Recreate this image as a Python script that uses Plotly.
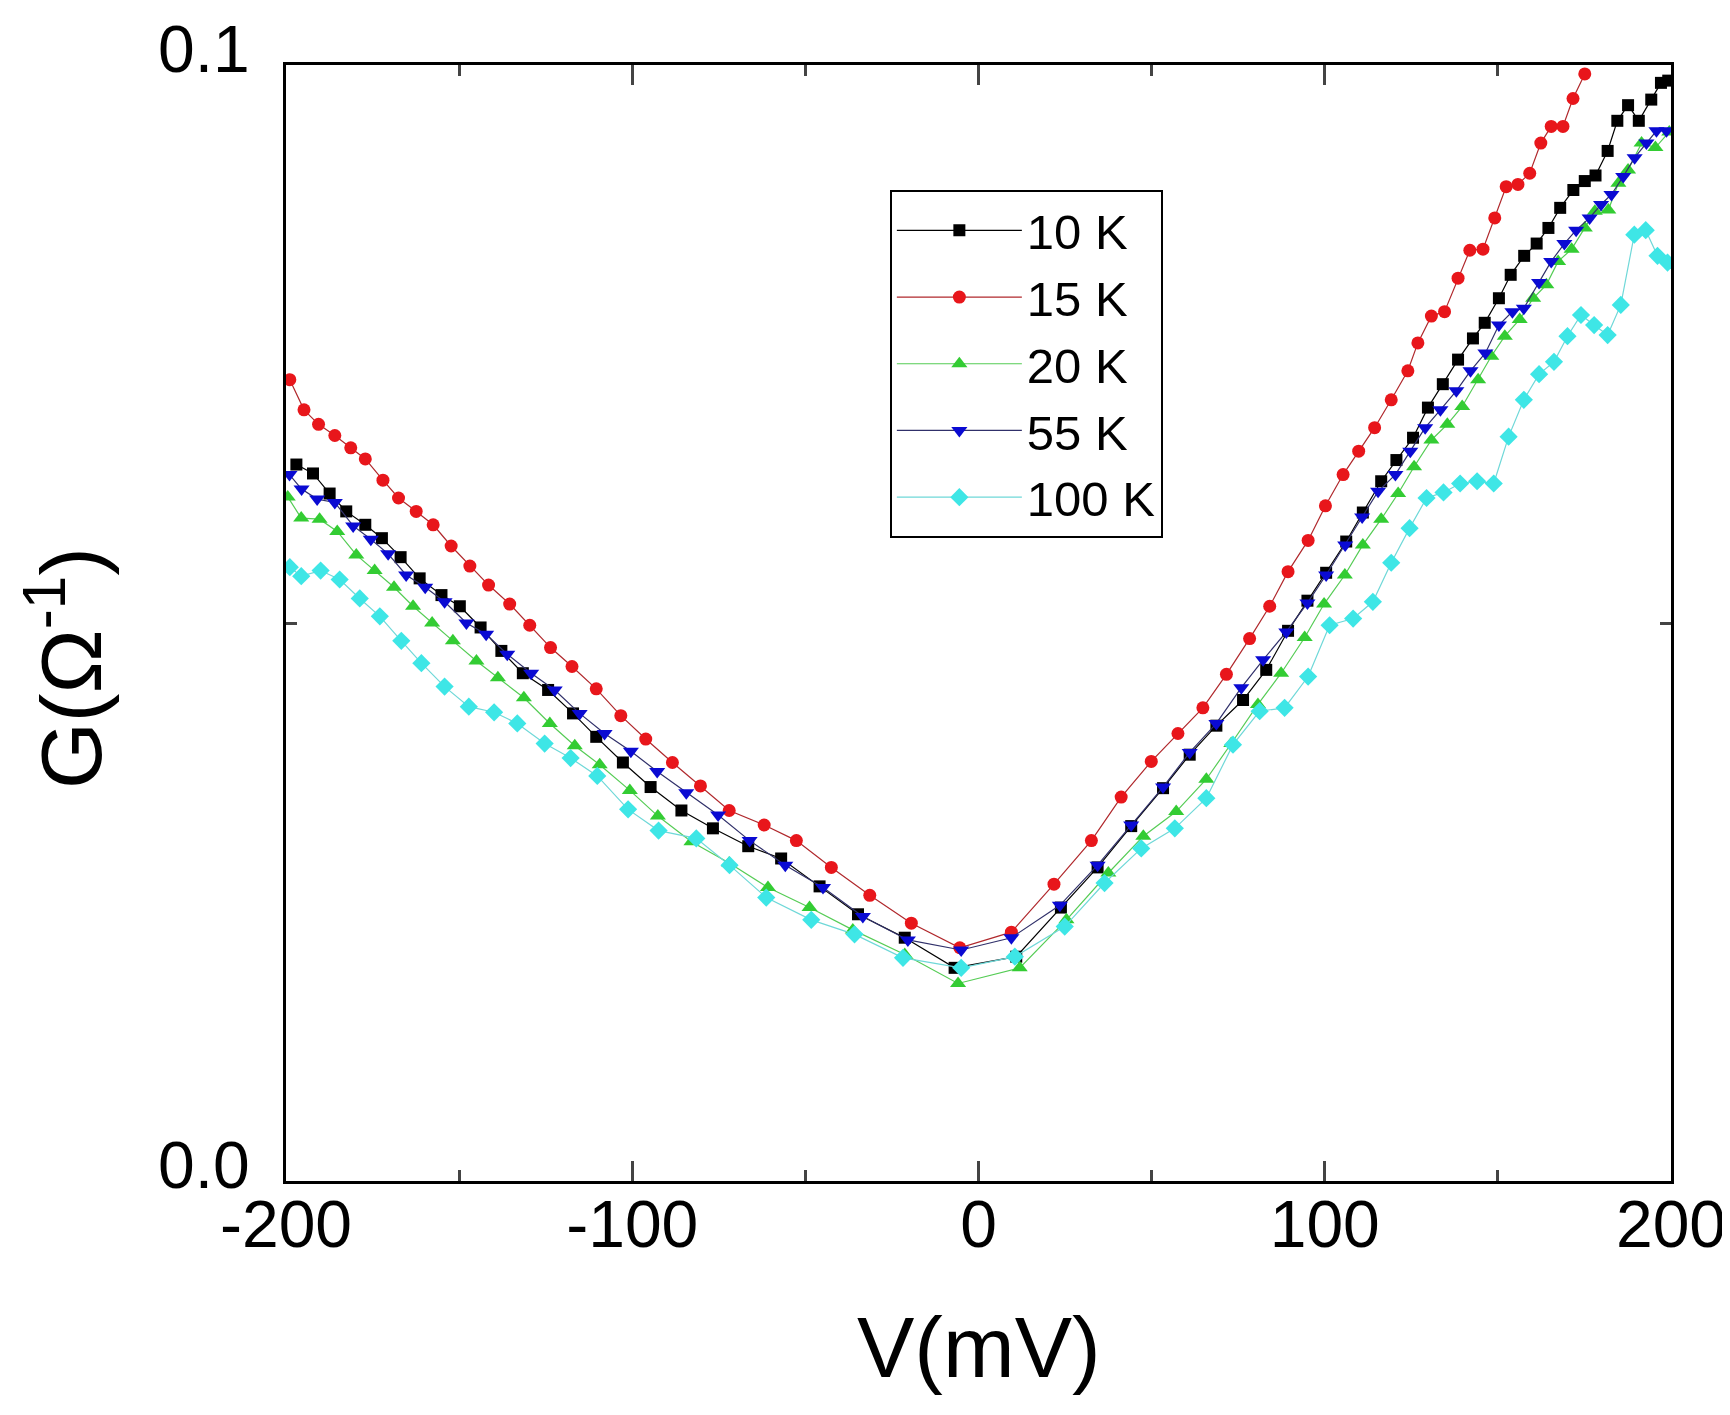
import plotly.graph_objects as go

# 10 K
v_10k = [-197.0, -192.2, -187.4, -182.6, -177.1, -172.3, -166.9, -161.4, -155.1, -149.8, -143.8, -137.8, -131.6, -124.3,
         -117.1, -110.4, -102.7, -94.7, -85.8, -76.7, -66.5, -57.0, -45.9, -34.8, -21.3, -6.9, 10.9, 23.8, 34.4, 44.1,
         53.3, 61.0, 68.7, 76.4, 83.1, 89.4, 95.0, 100.4, 106.2, 111.0, 116.3, 120.7, 125.5, 129.8, 134.1, 138.5, 142.8,
         146.2, 150.3, 153.7, 157.6, 161.2, 164.6, 168.0, 171.8, 175.1, 178.2, 181.7, 184.5, 187.6, 190.7, 194.3, 197.1,
         199.2]
g_10k = [0.0642, 0.0634, 0.0616, 0.0600, 0.0588, 0.0576, 0.0559, 0.0540, 0.0525, 0.0515, 0.0496, 0.0475, 0.0455, 0.0440,
         0.0419, 0.0398, 0.0375, 0.0353, 0.0332, 0.0316, 0.0300, 0.0289, 0.0264, 0.0239, 0.0218, 0.0191, 0.0201, 0.0245,
         0.0281, 0.0318, 0.0352, 0.0382, 0.0408, 0.0431, 0.0458, 0.0493, 0.0520, 0.0545, 0.0573, 0.0599, 0.0627, 0.0646,
         0.0666, 0.0693, 0.0714, 0.0736, 0.0755, 0.0769, 0.0791, 0.0812, 0.0829, 0.0840, 0.0854, 0.0872, 0.0888, 0.0896,
         0.0901, 0.0923, 0.0950, 0.0964, 0.0950, 0.0969, 0.0984, 0.0986]

# 15 K
v_15k = [-198.9, -194.8, -190.6, -185.9, -181.3, -177.1, -172.0, -167.5, -162.4, -157.5, -152.3, -146.9, -141.5, -135.4,
         -129.6, -123.6, -117.4, -110.4, -103.3, -96.1, -88.4, -80.3, -72.0, -61.9, -52.6, -42.5, -31.4, -19.4, -5.4,
         9.5, 21.8, 32.6, 41.2, 49.9, 57.6, 64.8, 71.6, 78.3, 84.1, 89.4, 95.2, 100.2, 105.3, 109.8, 114.4, 119.2, 124.0,
         126.9, 130.8, 134.6, 138.5, 141.9, 145.7, 149.1, 152.4, 155.8, 159.2, 162.4, 165.4, 168.8, 171.7, 175.1]
g_15k = [0.0718, 0.0691, 0.0678, 0.0668, 0.0657, 0.0647, 0.0628, 0.0612, 0.0600, 0.0588, 0.0569, 0.0551, 0.0534, 0.0517,
         0.0498, 0.0478, 0.0461, 0.0441, 0.0417, 0.0396, 0.0375, 0.0354, 0.0332, 0.0319, 0.0305, 0.0281, 0.0256, 0.0231,
         0.0209, 0.0223, 0.0266, 0.0305, 0.0344, 0.0376, 0.0401, 0.0424, 0.0454, 0.0486, 0.0515, 0.0546, 0.0574, 0.0605,
         0.0633, 0.0654, 0.0675, 0.0700, 0.0726, 0.0751, 0.0775, 0.0779, 0.0809, 0.0834, 0.0835, 0.0863, 0.0891, 0.0893,
         0.0903, 0.0930, 0.0945, 0.0945, 0.0970, 0.0992]

# 20 K
v_20k = [-199.5, -195.6, -190.3, -185.2, -179.7, -174.4, -168.8, -163.3, -157.8, -151.8, -145.0, -138.8, -131.3, -123.8,
         -116.6, -109.4, -100.7, -92.6, -82.9, -72.0, -60.8, -48.8, -36.3, -21.3, -5.9, 11.9, 25.4, 37.5, 47.6, 57.1,
         65.8, 73.0, 80.7, 87.4, 94.2, 99.8, 105.8, 111.0, 116.3, 121.2, 125.8, 130.8, 135.4, 139.7, 144.3, 148.1, 152.0,
         156.3, 160.2, 164.0, 167.4, 171.3, 175.1, 178.0, 181.9, 184.8, 187.6, 191.5, 195.5, 199.5]
g_20k = [0.0613, 0.0594, 0.0593, 0.0582, 0.0561, 0.0547, 0.0532, 0.0515, 0.0500, 0.0484, 0.0466, 0.0451, 0.0433, 0.0410,
         0.0390, 0.0373, 0.0350, 0.0327, 0.0304, 0.0285, 0.0263, 0.0245, 0.0225, 0.0203, 0.0177, 0.0191, 0.0234, 0.0276,
         0.0309, 0.0331, 0.0360, 0.0392, 0.0427, 0.0455, 0.0487, 0.0517, 0.0543, 0.0570, 0.0593, 0.0616, 0.0640, 0.0664,
         0.0678, 0.0694, 0.0718, 0.0739, 0.0757, 0.0772, 0.0791, 0.0803, 0.0824, 0.0835, 0.0854, 0.0869, 0.0870, 0.0894,
         0.0906, 0.0930, 0.0926, 0.0940]

# 55 K
v_55k = [-199.0, -195.5, -191.0, -185.9, -180.6, -175.5, -170.5, -165.3, -159.8, -154.2, -147.9, -142.2, -136.1, -129.2,
         -122.4, -115.2, -108.0, -100.4, -92.8, -84.4, -75.2, -66.1, -55.8, -44.9, -33.4, -20.4, -5.0, 9.5, 23.5, 34.4,
         44.1, 53.3, 61.0, 68.7, 75.9, 82.2, 88.9, 95.0, 100.4, 105.9, 110.8, 115.4, 120.4, 124.7, 129.0, 133.4, 138.0,
         142.1, 146.4, 150.3, 154.2, 157.5, 161.9, 165.4, 169.2, 172.6, 176.5, 179.8, 182.8, 186.2, 189.5, 192.9, 195.8,
         198.7]
g_55k = [0.0633, 0.0620, 0.0611, 0.0608, 0.0587, 0.0575, 0.0562, 0.0543, 0.0532, 0.0519, 0.0500, 0.0490, 0.0472, 0.0455,
         0.0440, 0.0419, 0.0401, 0.0385, 0.0367, 0.0348, 0.0328, 0.0305, 0.0283, 0.0263, 0.0237, 0.0216, 0.0207, 0.0218,
         0.0247, 0.0283, 0.0319, 0.0353, 0.0384, 0.0410, 0.0442, 0.0467, 0.0492, 0.0518, 0.0543, 0.0570, 0.0595, 0.0618,
         0.0633, 0.0654, 0.0675, 0.0691, 0.0708, 0.0726, 0.0742, 0.0767, 0.0779, 0.0782, 0.0805, 0.0824, 0.0840, 0.0852,
         0.0863, 0.0875, 0.0884, 0.0900, 0.0917, 0.0930, 0.0941, 0.0941]

# 100 K
v_100k = [-198.9, -195.6, -190.0, -184.5, -178.7, -172.9, -166.7, -160.9, -154.2, -147.2, -139.9, -133.2, -125.3, -117.8,
          -110.1, -101.2, -92.4, -81.5, -71.9, -61.3, -48.3, -35.8, -21.8, -5.0, 10.5, 24.9, 36.4, 47.0, 56.7, 65.8,
          73.5, 81.2, 88.4, 95.2, 101.4, 108.2, 113.9, 119.2, 124.5, 129.4, 134.3, 139.1, 144.0, 148.8, 153.1, 157.5,
          161.9, 166.2, 170.1, 174.0, 177.8, 181.7, 185.5, 189.4, 192.7, 196.1, 199.0]
g_100k = [0.0550, 0.0542, 0.0547, 0.0539, 0.0522, 0.0506, 0.0484, 0.0464, 0.0443, 0.0425, 0.0420, 0.0410, 0.0392, 0.0379,
          0.0363, 0.0333, 0.0314, 0.0307, 0.0283, 0.0254, 0.0234, 0.0221, 0.0200, 0.0191, 0.0201, 0.0228, 0.0267, 0.0298,
          0.0316, 0.0343, 0.0391, 0.0421, 0.0424, 0.0452, 0.0498, 0.0504, 0.0519, 0.0554, 0.0585, 0.0612, 0.0617, 0.0625,
          0.0627, 0.0625, 0.0667, 0.0700, 0.0723, 0.0734, 0.0757, 0.0776, 0.0767, 0.0758, 0.0785, 0.0848, 0.0852, 0.0829,
          0.0823]

labels = ['10 K', '15 K', '20 K', '55 K', '100 K']
x_ticks = [-200, -100, 0, 100, 200]
x_ticktext = ['-200', '-100', '0', '100', '200']
y_ticks = [0.0, 0.1]
y_ticktext = ['0.0', '0.1']

series = [
    (v_10k, g_10k, 'square', 12, '#000000', '#000000'),
    (v_15k, g_15k, 'circle', 13, '#e8161b', '#b0282c'),
    (v_20k, g_20k, 'triangle-up', 14, '#33cc33', '#55cc55'),
    (v_55k, g_55k, 'triangle-down', 14, '#0a0ad2', '#30306a'),
    (v_100k, g_100k, 'diamond', 14, '#3ee6e6', '#6fd8d8'),
]

font = 'Arial, "Liberation Sans", sans-serif'

fig = go.Figure()
for (v, g, sym, size, col, lcol), name in zip(series, labels):
    fig.add_trace(go.Scatter(x=v, y=g, name=name, mode='lines+markers',
                             line=dict(color=lcol, width=1.2),
                             marker=dict(symbol=sym, size=size, color=col, line=dict(width=0))))

fig.update_layout(
    width=1730, height=1415,
    margin=dict(l=278, r=67, t=57, b=242),
    paper_bgcolor='white', plot_bgcolor='white',
    font=dict(family=font, color='black', size=66),
    showlegend=True,
    legend=dict(x=0.436, y=0.888, xanchor='left', yanchor='top',
                bordercolor='black', borderwidth=2, bgcolor='white',
                font=dict(size=49), itemwidth=125, tracegroupgap=0),
    annotations=[
        dict(text='V(mV)', xref='paper', yref='paper', x=0.5, y=-0.149,
             showarrow=False, font=dict(size=86), xanchor='center', yanchor='middle'),
        dict(text='G(Ω<sup>-1</sup>)', xref='paper', yref='paper', x=-0.16, y=0.46,
             showarrow=False, font=dict(size=86), textangle=-90, xanchor='center', yanchor='middle'),
    ],
)

fig.update_xaxes(range=[-200, 200], tickvals=x_ticks, ticktext=x_ticktext, ticks='inside', ticklen=20, tickwidth=3,
                 showline=True, linewidth=3, linecolor='black', mirror='ticks', automargin=False,
                 showgrid=False, zeroline=False, ticklabelstandoff=-16,
                 minor=dict(ticks='inside', ticklen=11, tickwidth=3, dtick=50, showgrid=False))
fig.update_yaxes(range=[0, 0.1], tickvals=y_ticks, ticktext=y_ticktext, ticks='inside', ticklen=20, tickwidth=3,
                 showline=True, linewidth=3, linecolor='black', mirror='ticks', automargin=False,
                 showgrid=False, zeroline=False, ticklabelstandoff=20, ticklabelshift=-16,
                 minor=dict(ticks='inside', ticklen=11, tickwidth=3, dtick=0.05, showgrid=False))

fig.write_html("out.html")
